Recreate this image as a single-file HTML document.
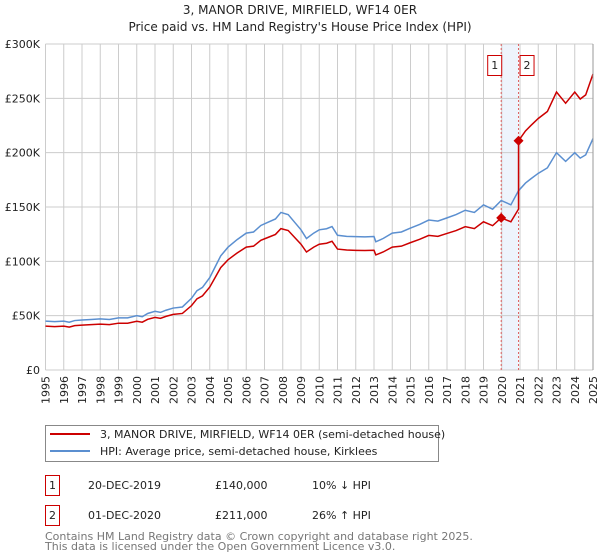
<!DOCTYPE html>
<html><head><meta charset="utf-8"><style>
body{margin:0;background:#fff;font-family:"Liberation Sans","DejaVu Sans",sans-serif;}
svg{display:block}
text{font-family:"DejaVu Sans","Liberation Sans",sans-serif;}
</style></head><body>
<svg id="c" width="600" height="560" viewBox="0 0 600 560">
<text x="300" y="14" text-anchor="middle" font-size="12" fill="#222">3, MANOR DRIVE, MIRFIELD, WF14 0ER</text>
<text x="300" y="31" text-anchor="middle" font-size="12" fill="#222">Price paid vs. HM Land Registry's House Price Index (HPI)</text>
<g id="grid"></g><g id="series"></g><g id="axes"></g>
<g>
<rect x="45.5" y="425.5" width="393" height="36" fill="#fff" stroke="#888"/>
<line x1="50" y1="434" x2="90" y2="434" stroke="#cc0000" stroke-width="2"/>
<text x="100" y="438" font-size="11" fill="#222">3, MANOR DRIVE, MIRFIELD, WF14 0ER (semi-detached house)</text>
<line x1="50" y1="451" x2="90" y2="451" stroke="#5b8fd0" stroke-width="2"/>
<text x="100" y="455" font-size="11" fill="#222">HPI: Average price, semi-detached house, Kirklees</text>
</g>
<g font-size="11" fill="#222">
<rect x="45.5" y="475.5" width="14" height="20" fill="#fff" stroke="#cc0000"/>
<text x="52.5" y="489" text-anchor="middle">1</text>
<text x="88" y="489">20-DEC-2019</text>
<text x="215" y="489">£140,000</text>
<text x="312" y="489">10% ↓ HPI</text>
<rect x="45.5" y="505.5" width="14" height="20" fill="#fff" stroke="#cc0000"/>
<text x="52.5" y="519" text-anchor="middle">2</text>
<text x="88" y="519">01-DEC-2020</text>
<text x="215" y="519">£211,000</text>
<text x="312" y="519">26% ↑ HPI</text>
</g>
<text x="45" y="540" font-size="11" fill="#777">Contains HM Land Registry data © Crown copyright and database right 2025.</text>
<text x="45" y="550" font-size="11" fill="#777">This data is licensed under the Open Government Licence v3.0.</text>
</svg>
<script>
const hpiYears=[1995,1995.5,1996,1996.3,1996.6,1997,1997.5,1998,1998.5,1999,1999.5,2000,2000.3,2000.6,2001,2001.3,2001.6,2002,2002.5,2003,2003.3,2003.6,2004,2004.3,2004.6,2005,2005.5,2006,2006.4,2006.8,2007.2,2007.6,2007.9,2008.3,2008.7,2009,2009.3,2009.7,2010,2010.4,2010.7,2011,2011.5,2012,2012.5,2013,2013.1,2013.5,2014,2014.5,2015,2015.5,2016,2016.5,2017,2017.5,2018,2018.5,2019,2019.5,2019.97,2020.5,2020.92,2021.3,2021.6,2022,2022.5,2023,2023.5,2024,2024.3,2024.6,2025];
const hpiValues=[45,44.5,45,44,45.5,46,46.5,47,46.5,48,48,50,49,52,54,53,55,57,58,66,73,76,85,95,105,113,120,126,127,133,136,139,145,143,135,129,121,126,129,130,132,124,123,122.7,122.5,122.8,118,121,126,127,130.6,134,138,137,140,143,147,145,152,148,156,152,165,172,176,181,186,200,192,200,195,198,213];
const saleYears=[2019.97,2020.92];
const salePrices=[140,211];
const yTicks=[0,50,100,150,200,250,300];
const yTickLabels=["£0","£50K","£100K","£150K","£200K","£250K","£300K"];
const xTicks=[1995,1996,1997,1998,1999,2000,2001,2002,2003,2004,2005,2006,2007,2008,2009,2010,2011,2012,2013,2014,2015,2016,2017,2018,2019,2020,2021,2022,2023,2024,2025];
const NS="http://www.w3.org/2000/svg";
const X0=45.5,X1=593,Y0=370,Y1=44;
const xs=y=>X0+(y-1995)/30*(X1-X0);
const ys=v=>Y0-v/300*(Y0-Y1);
function mk(tag,attrs,parent){const e=document.createElementNS(NS,tag);for(const k in attrs)e.setAttribute(k,attrs[k]);parent.appendChild(e);return e;}
const grid=document.getElementById('grid'),ser=document.getElementById('series'),ax=document.getElementById('axes');
const bg=mk('rect',{x:X0,y:Y1,width:X1-X0,height:Y0-Y1,fill:'#fff'},grid);


const band=mk('rect',{x:xs(saleYears[0]),y:Y1,width:xs(saleYears[1])-xs(saleYears[0]),height:Y0-Y1,fill:'#eef4fc'},grid);


xTicks.forEach((t,i)=>{
 const l=mk('line',{x1:xs(t),x2:xs(t),y1:Y1,y2:Y0,stroke:'#ccc','stroke-width':1},grid);
 
 
 const tx=mk('text',{transform:`translate(${xs(t)+4},${Y0+6}) rotate(-90)`,'text-anchor':'end','font-size':11,fill:'#222'},ax);
 tx.textContent=t;
 
 
});
yTicks.forEach((t,i)=>{
 const l=mk('line',{x1:X0,x2:X1,y1:ys(t),y2:ys(t),stroke:'#ccc','stroke-width':1},grid);
 
 
 const tx=mk('text',{x:40,y:ys(t)+4,'text-anchor':'end','font-size':11,fill:'#222'},ax);
 tx.textContent=yTickLabels[i];
 
 
});
function hpiAt(y){for(let i=0;i<hpiYears.length-1;i++){if(y>=hpiYears[i]&&y<=hpiYears[i+1]){const f=(y-hpiYears[i])/(hpiYears[i+1]-hpiYears[i]);return hpiValues[i]+f*(hpiValues[i+1]-hpiValues[i]);}}return hpiValues[hpiValues.length-1];}
saleYears.forEach((s,i)=>{
 const l=mk('line',{x1:xs(s),x2:xs(s),y1:Y1,y2:Y0,stroke:'#e06060','stroke-width':1,'stroke-dasharray':'2,2'},grid);
 
 
 const bx=xs(s)+(i==0?-14:1);
 const r=mk('rect',{x:bx+0.5,y:55.5,width:14,height:20,fill:'#fff',stroke:'#cc0000'},ax);
 
 
 const t=mk('text',{x:bx+7.5,y:69,'text-anchor':'middle','font-size':11,fill:'#222'},ax);
 t.textContent=String(i+1);
 
 
});
// HPI line
const hp=mk('polyline',{points:hpiYears.map((y,i)=>xs(y)+','+ys(hpiValues[i])).join(' '),fill:'none',stroke:'#5b8fd0','stroke-width':1.5},ser);


// property line: HPI scaled by sale prices
const r1=salePrices[0]/hpiAt(saleYears[0]),r2=salePrices[1]/hpiAt(saleYears[1]);
const pts=[];
hpiYears.forEach((y,i)=>{ if(y<saleYears[1]) pts.push([y,hpiValues[i]*r1]); });
pts.push([saleYears[1],hpiAt(saleYears[1])*r1]);
pts.push([saleYears[1],salePrices[1]]);
hpiYears.forEach((y,i)=>{ if(y>saleYears[1]) pts.push([y,hpiValues[i]*r2]); });
const pl=mk('polyline',{points:pts.map(p=>xs(p[0])+','+ys(p[1])).join(' '),fill:'none',stroke:'#cc0000','stroke-width':1.5},ser);


saleYears.forEach((s,i)=>{
 const x=xs(s),y=ys(salePrices[i]);
 const d=mk('polygon',{points:`${x},${y-5} ${x+5},${y} ${x},${y+5} ${x-5},${y}`,fill:'#cc0000'},ser);
 
 
});
const fr=mk('line',{x1:X1,x2:X1,y1:Y1,y2:Y0,stroke:'#999'},ax);


</script>
</body></html>
